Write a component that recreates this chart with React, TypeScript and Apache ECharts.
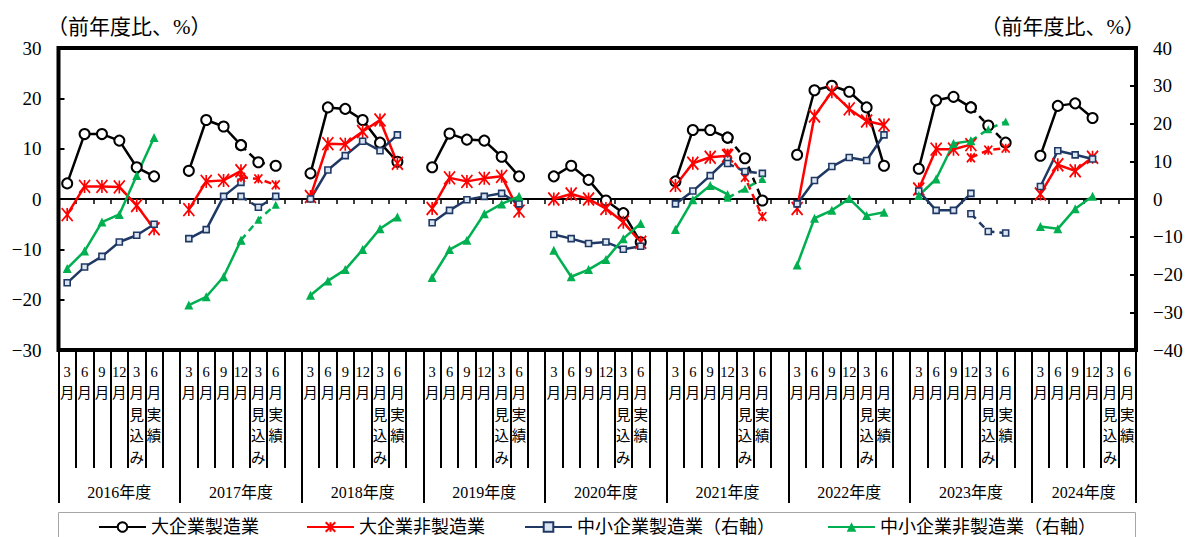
import React, { useEffect, useRef } from 'react';
import * as echarts from 'echarts';

const fiscalYears = ['2016年度', '2017年度', '2018年度', '2019年度', '2020年度', '2021年度', '2022年度', '2023年度', '2024年度'];
const monthLabels = ['3\n月', '6\n月', '9\n月', '12\n月', '3\n月\n見\n込\nみ', '6\n月\n実\n績'];
const leftTicks = [-30, -20, -10, 0, 10, 20, 30];
const rightTicks = [-40, -30, -20, -10, 0, 10, 20, 30, 40];

// per fiscal year: [3月, 6月, 9月, 12月, 3月見込み, 6月実績]
const largeMfg: (number | null)[][] = [
  [3.1, 12.9, 12.9, 11.6, 6.3, 4.5],
  [5.6, 15.7, 14.4, 10.7, 7.3, 6.6],
  [5.1, 18.2, 17.9, 15.7, 11.2, 7.4],
  [6.3, 13.0, 11.8, 11.6, 8.4, 4.5],
  [4.5, 6.6, 3.8, -0.3, -2.8, -8.6],
  [3.5, 13.7, 13.7, 12.2, 8.1, -0.3],
  [8.8, 21.6, 22.5, 21.3, 18.2, 6.6],
  [6.0, 19.6, 20.3, 18.2, 14.6, 11.2],
  [8.6, 18.5, 19.0, 16.1, null, null],
];
const largeNonMfg: (number | null)[][] = [
  [-3.1, 2.5, 2.5, 2.4, -1.3, -5.9],
  [-2.1, 3.5, 3.7, 5.6, 4.0, 2.8],
  [0.5, 11.0, 10.9, 13.4, 15.7, 7.1],
  [-1.9, 4.2, 3.5, 4.1, 4.5, -2.4],
  [0.0, 1.0, 0.0, -1.9, -4.6, -8.6],
  [2.7, 7.1, 8.3, 8.6, 4.3, -3.5],
  [-1.9, 16.5, 21.3, 17.9, 15.5, 14.7],
  [2.0, 9.9, 9.9, 10.8, 9.7, 10.1],
  [1.0, 6.8, 5.6, 8.3, null, null],
];
const smeMfg: (number | null)[][] = [
  [-22.2, -18.0, -15.2, -11.4, -9.6, -6.7],
  [-10.5, -8.1, 0.7, 4.4, -2.2, 0.7],
  [0.0, 7.7, 11.5, 15.3, 12.8, 17.0],
  [-6.3, -3.0, -0.2, 0.7, 1.5, -1.3],
  [-9.4, -10.5, -11.8, -11.4, -13.3, -12.5],
  [-1.3, 2.1, 6.2, 10.6, 7.3, 6.8],
  [-1.3, 4.9, 8.6, 11.0, 10.2, 17.0],
  [2.1, -3.0, -3.0, 1.5, -8.6, -9.0],
  [3.3, 12.8, 11.7, 10.6, null, null],
];
const smeNonMfg: (number | null)[][] = [
  [-18.4, -13.8, -6.1, -4.1, 6.2, 16.3],
  [-28.1, -25.9, -20.6, -10.9, -5.5, -1.5],
  [-25.5, -21.7, -18.7, -13.4, -7.9, -4.8],
  [-20.8, -13.4, -10.9, -3.9, -1.3, 0.7],
  [-13.6, -20.6, -18.7, -16.0, -10.5, -6.5],
  [-8.1, -0.2, 3.6, 1.2, 2.7, 5.3],
  [-17.5, -5.1, -3.0, 0.1, -4.4, -3.5],
  [0.9, 5.3, 14.7, 15.4, 18.5, 20.5],
  [-7.3, -7.9, -2.6, 0.7, null, null],
];

// years whose 12月 → 3月見込み → 6月実績 are on a new basis (dashed), with new-basis 12月 values
const breakYears = [1, 5, 7];
const largeMfgNew12 = [10.7, 12.2, 18.2];
const largeNonMfgNew12 = [4.3, 9.1, 8.2];
const smeMfgNew12 = [0.7, 9.4, -3.9];
const smeNonMfgNew12 = [-10.9, 0.3, 15.4];

const FONT = "'Liberation Serif','Noto Sans CJK JP',serif";
const SLOTS_PER_YEAR = 7;

function buildCategories(): string[] {
  const cats: string[] = [];
  fiscalYears.forEach((_, k) => {
    monthLabels.forEach((m) => cats.push(m));
    if (k < fiscalYears.length - 1) cats.push('');
  });
  return cats;
}

function buildYearCats(total: number): string[] {
  const arr: string[] = new Array(total * 2 + 1).fill('');
  fiscalYears.forEach((y, k) => {
    const start = k * SLOTS_PER_YEAR;
    const len = k < fiscalYears.length - 1 ? SLOTS_PER_YEAR : monthLabels.length;
    arr[start * 2 + len] = y;
  });
  return arr;
}

function buildSolid(values: (number | null)[][], total: number) {
  const arr: (number | null)[] = new Array(total).fill(null);
  values.forEach((yr, k) => {
    const br = breakYears.indexOf(k) >= 0;
    yr.forEach((v, j) => {
      if (v == null) return;
      if (br && j > 3) return;
      arr[k * SLOTS_PER_YEAR + j] = v;
    });
  });
  return arr;
}

function buildDashed(values: (number | null)[][], new12: number[], total: number) {
  const arr: (number | null)[] = new Array(total).fill(null);
  breakYears.forEach((k, i) => {
    arr[k * SLOTS_PER_YEAR + 3] = new12[i];
    arr[k * SLOTS_PER_YEAR + 4] = values[k][4];
    arr[k * SLOTS_PER_YEAR + 5] = values[k][5];
  });
  return arr;
}

const ASTERISK = 'path://M0,0L10,12M10,0L0,12M5,0L5,12';

export default function App() {
  const ref = useRef<HTMLDivElement>(null);
  useEffect(() => {
    if (!ref.current) return;
    const chart = echarts.init(ref.current, undefined, { renderer: 'svg' });
    const cats = buildCategories();
    const total = cats.length;
    const yearCats = buildYearCats(total);

    const styles = [
      {
        name: '大企業製造業', color: '#000000', symbol: 'circle', size: 10, dSize: 10, yAxisIndex: 0,
        itemStyle: { color: '#ffffff', borderColor: '#000000', borderWidth: 2 }, values: largeMfg, new12: largeMfgNew12,
      },
      {
        name: '大企業非製造業', color: '#ff0000', symbol: ASTERISK, size: [11, 13], dSize: [8, 9], yAxisIndex: 0,
        itemStyle: { color: '#ff0000', borderColor: '#ff0000', borderWidth: 1.8 }, values: largeNonMfg, new12: largeNonMfgNew12,
      },
      {
        name: '中小企業製造業（右軸）', color: '#1f3864', symbol: 'rect', size: 6, dSize: 6, yAxisIndex: 1,
        itemStyle: { color: '#dce6f2', borderColor: '#1f3864', borderWidth: 1.6 }, values: smeMfg, new12: smeMfgNew12,
      },
      {
        name: '中小企業非製造業（右軸）', color: '#00b050', symbol: 'triangle', size: 9, dSize: 8, yAxisIndex: 1,
        itemStyle: { color: '#00b050', borderColor: '#00b050', borderWidth: 0 }, values: smeNonMfg, new12: smeNonMfgNew12,
      },
    ];

    const series: any[] = [];
    styles.forEach((s) => {
      series.push({
        type: 'line', name: s.name, xAxisIndex: 0, yAxisIndex: s.yAxisIndex,
        data: buildSolid(s.values, total), connectNulls: false,
        symbol: s.symbol, symbolSize: s.size, showAllSymbol: true,
        lineStyle: { color: s.color, width: 2.5 }, itemStyle: s.itemStyle,
        emphasis: { disabled: true }, silent: true,
      });
    });
    styles.forEach((s) => {
      series.push({
        type: 'line', name: s.name, xAxisIndex: 0, yAxisIndex: s.yAxisIndex,
        data: buildDashed(s.values, s.new12, total), connectNulls: false,
        symbol: s.symbol, symbolSize: s.dSize, showAllSymbol: true,
        lineStyle: { color: s.color, width: 2.5, type: [7, 5] }, itemStyle: s.itemStyle,
        emphasis: { disabled: true }, silent: true,
      });
    });

    const legendPos = [98, 306, 524, 827];
    const legend = styles.map((s, i) => ({
      data: [s.name], left: legendPos[i], top: 515, itemWidth: 47, itemHeight: 12, itemGap: 5,
      padding: 0,
      textStyle: { fontSize: 18, fontFamily: FONT, color: '#000', lineHeight: 24 }, selectedMode: false,
    }));

    const minus = (v: number) => String(v).replace('-', '−');

    chart.setOption({
      animation: false,
      backgroundColor: '#ffffff',
      grid: { left: 58.5, right: 51, top: 48, bottom: 187, show: true, borderColor: '#000', borderWidth: 4, backgroundColor: 'transparent' },
      legend,
      xAxis: [
        {
          type: 'category', data: cats, boundaryGap: true, position: 'bottom',
          axisLine: { show: true, onZero: true, onZeroAxisIndex: 0, lineStyle: { color: '#000', width: 2 } },
          axisTick: { show: true, interval: 0, length: 5, lineStyle: { color: '#000', width: 1.5 } },
          axisLabel: { show: false }, splitLine: { show: false },
        },
        {
          type: 'category', data: cats, boundaryGap: true, position: 'bottom',
          axisLine: { show: false, onZero: false },
          axisTick: { show: true, interval: 0, length: 118, lineStyle: { color: '#000', width: 2 } },
          axisLabel: { show: true, interval: 0, margin: 11, fontSize: 14.5, lineHeight: 21.5, fontFamily: FONT, color: '#000' },
          splitLine: { show: false },
        },
        {
          type: 'category', data: yearCats, boundaryGap: false, position: 'bottom',
          axisLine: { show: false, onZero: false },
          axisTick: { show: true, interval: (i: number) => i % 14 === 0 || i === yearCats.length - 1, length: 153, lineStyle: { color: '#000', width: 2 } },
          axisLabel: { show: true, interval: 0, margin: 134, fontSize: 16, fontFamily: FONT, color: '#000' },
          splitLine: { show: false },
        },
      ],
      yAxis: [
        {
          type: 'value', min: leftTicks[0], max: leftTicks[leftTicks.length - 1], interval: 10, position: 'left',
          axisLine: { show: false }, splitLine: { show: false },
          axisTick: { show: true, inside: true, length: 6, lineStyle: { color: '#000', width: 2 } },
          axisLabel: { margin: 17, fontSize: 19, fontFamily: FONT, color: '#000', formatter: minus },
        },
        {
          type: 'value', min: rightTicks[0], max: rightTicks[rightTicks.length - 1], interval: 10, position: 'right',
          axisLine: { show: false }, splitLine: { show: false },
          axisTick: { show: true, inside: true, length: 6, lineStyle: { color: '#000', width: 2 } },
          axisLabel: { margin: 17, fontSize: 19, fontFamily: FONT, color: '#000', formatter: minus },
        },
      ],
      graphic: [
        { type: 'text', left: 47, top: 16, style: { text: '（前年度比、%）', font: `21px ${FONT}`, fill: '#000' } },
        { type: 'text', right: 42, top: 16, style: { text: '（前年度比、%）', font: `21px ${FONT}`, fill: '#000' } },
        { type: 'rect', shape: { x: 58.5, y: 512.5, width: 1077, height: 40 }, style: { fill: 'none', stroke: '#a6a6a6', lineWidth: 1 }, z: -1 },
      ],
      series,
    });
    return () => chart.dispose();
  }, []);
  return <div ref={ref} style={{ width: 1187, height: 537, position: 'absolute', left: 0, top: 0 }} />;
}
